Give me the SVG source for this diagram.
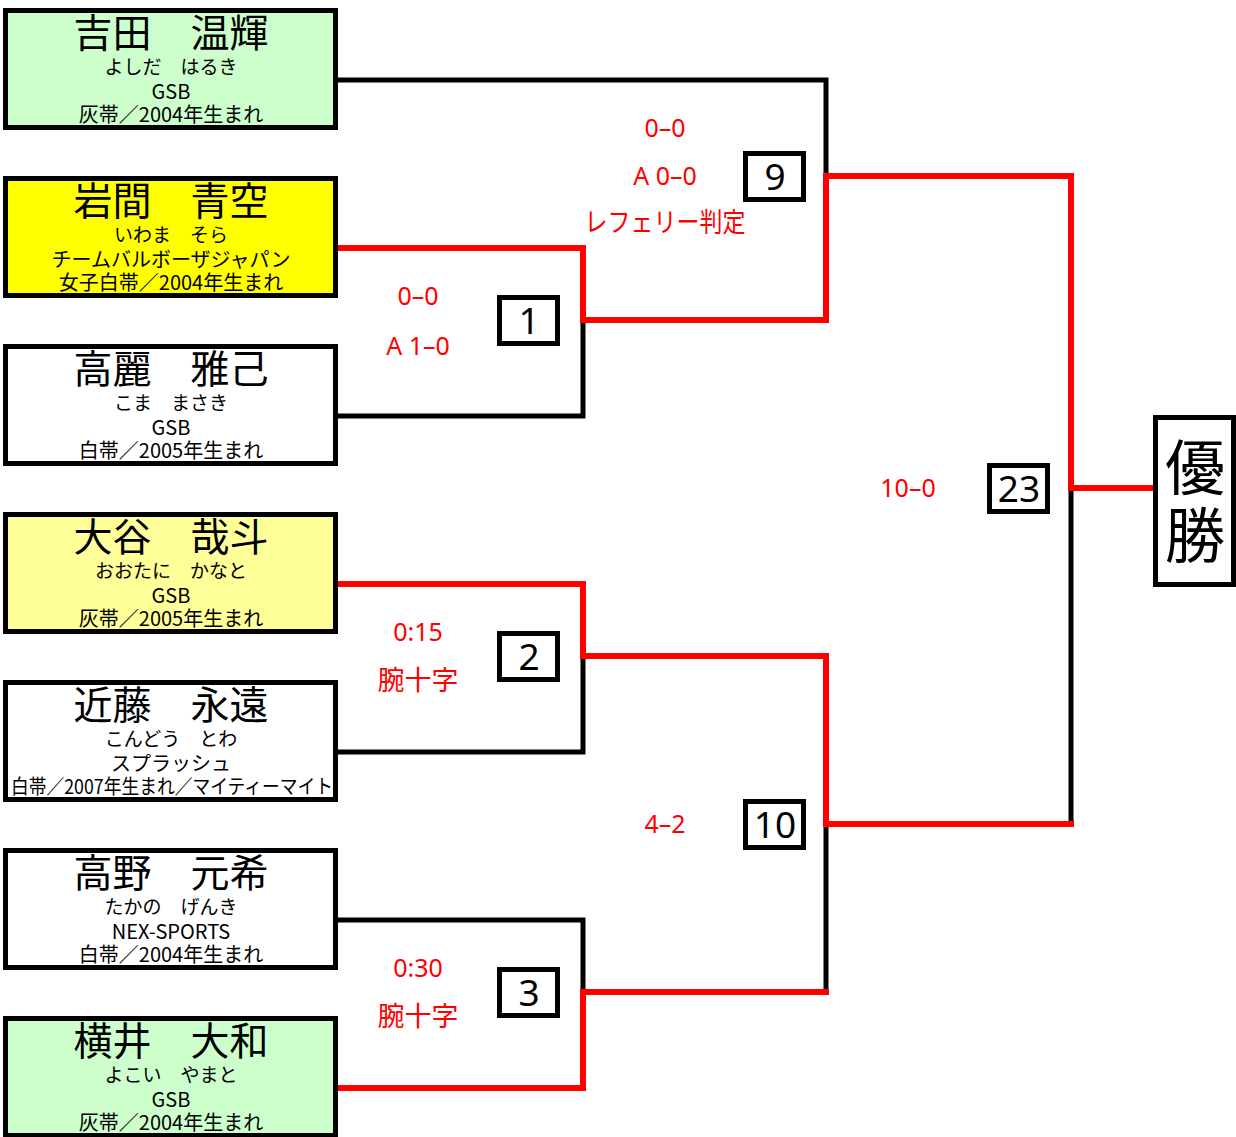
<svg xmlns="http://www.w3.org/2000/svg" width="1236" height="1137" viewBox="0 0 1236 1137">
<style>
.box{stroke:#000;stroke-width:5;}
.t{font-family:"Noto Sans CJK JP","Noto Sans",sans-serif;fill:#000;text-anchor:middle;}
.nm{font-size:39px;}
.rd{font-size:19px;}
.sm{font-size:20px;}
.blk{fill:none;stroke:#000;stroke-width:5;stroke-linejoin:miter;stroke-linecap:square;}
.red{fill:none;stroke:#ff0000;stroke-width:6;stroke-linejoin:miter;stroke-linecap:square;}
.sc{font-family:"Noto Sans","Noto Sans CJK JP",sans-serif;fill:#ff0000;font-size:25px;text-anchor:middle;}
.sj{font-family:"Noto Sans CJK JP","Noto Sans",sans-serif;fill:#ff0000;font-size:27px;text-anchor:middle;}
.mb{fill:#fff;stroke:#000;stroke-width:5;}
.mn{font-family:"Noto Sans","Noto Sans CJK JP",sans-serif;font-size:37px;fill:#000;text-anchor:middle;}
</style>
<rect width="1236" height="1137" fill="#fff"/>
<g id="connectors">
<path class="blk" d="M338,80 H826 V176"/>
<path class="blk" d="M338,416 H583 V320"/>
<path class="blk" d="M338,752 H583 V656"/>
<path class="blk" d="M338,920 H583 V992"/>
<path class="blk" d="M826,992 V824"/>
<path class="blk" d="M1071,824 V488"/>
<path class="red" d="M338,248 H583 V320 H826 V176 H1071 V488 H1155"/>
<path class="red" d="M338,584 H583 V656 H826 V824 H1071"/>
<path class="red" d="M338,1088 H583 V992 H826"/>
</g>
<g id="p1">
<rect class="box" x="5.5" y="10.5" width="330" height="117" fill="#ccffcc"/>
<text class="t nm" x="171" y="47">吉田　温輝</text>
<text class="t rd" x="171" y="74">よしだ　はるき</text>
<text class="t sm" x="171" y="99">GSB</text>
<text class="t sm" x="171" y="122">灰帯／2004年生まれ</text>
</g>
<g id="p2">
<rect class="box" x="5.5" y="178.5" width="330" height="117" fill="#ffff00"/>
<text class="t nm" x="171" y="215">岩間　青空</text>
<text class="t rd" x="171" y="242">いわま　そら</text>
<text class="t sm" x="171" y="267">チームバルボーザジャパン</text>
<text class="t sm" x="171" y="290">女子白帯／2004年生まれ</text>
</g>
<g id="p3">
<rect class="box" x="5.5" y="346.5" width="330" height="117" fill="#ffffff"/>
<text class="t nm" x="171" y="383">高麗　雅己</text>
<text class="t rd" x="171" y="410">こま　まさき</text>
<text class="t sm" x="171" y="435">GSB</text>
<text class="t sm" x="171" y="458">白帯／2005年生まれ</text>
</g>
<g id="p4">
<rect class="box" x="5.5" y="514.5" width="330" height="117" fill="#ffff99"/>
<text class="t nm" x="171" y="551">大谷　哉斗</text>
<text class="t rd" x="171" y="578">おおたに　かなと</text>
<text class="t sm" x="171" y="603">GSB</text>
<text class="t sm" x="171" y="626">灰帯／2005年生まれ</text>
</g>
<g id="p5">
<rect class="box" x="5.5" y="682.5" width="330" height="117" fill="#ffffff"/>
<text class="t nm" x="171" y="719">近藤　永遠</text>
<text class="t rd" x="171" y="746">こんどう　とわ</text>
<text class="t sm" x="171" y="771">スプラッシュ</text>
<text class="t sm" x="172" y="794" textLength="322" lengthAdjust="spacingAndGlyphs">白帯／2007年生まれ／マイティーマイト</text>
</g>
<g id="p6">
<rect class="box" x="5.5" y="850.5" width="330" height="117" fill="#ffffff"/>
<text class="t nm" x="171" y="887">高野　元希</text>
<text class="t rd" x="171" y="914">たかの　げんき</text>
<text class="t sm" x="171" y="939">NEX-SPORTS</text>
<text class="t sm" x="171" y="962">白帯／2004年生まれ</text>
</g>
<g id="p7">
<rect class="box" x="5.5" y="1018.5" width="330" height="117" fill="#ccffcc"/>
<text class="t nm" x="171" y="1055">横井　大和</text>
<text class="t rd" x="171" y="1082">よこい　やまと</text>
<text class="t sm" x="171" y="1107">GSB</text>
<text class="t sm" x="171" y="1130">灰帯／2004年生まれ</text>
</g>
<g id="m1">
<rect class="mb" x="499.5" y="297.5" width="58" height="46"/>
<text class="mn" x="529" y="334">1</text>
<text class="sc" x="418" y="305">0–0</text>
<text class="sc" x="418" y="355">A 1–0</text>
</g>
<g id="m2">
<rect class="mb" x="499.5" y="633.5" width="58" height="46"/>
<text class="mn" x="529" y="670">2</text>
<text class="sc" x="418" y="641">0:15</text>
<text class="sj" x="418" y="690">腕十字</text>
</g>
<g id="m3">
<rect class="mb" x="499.5" y="969.5" width="58" height="46"/>
<text class="mn" x="529" y="1006">3</text>
<text class="sc" x="418" y="977">0:30</text>
<text class="sj" x="418" y="1026">腕十字</text>
</g>
<g id="m9">
<rect class="mb" x="745.5" y="153.5" width="58" height="46"/>
<text class="mn" x="775" y="190">9</text>
<text class="sc" x="665" y="137">0–0</text>
<text class="sc" x="665" y="185">A 0–0</text>
<text class="sj" x="665" y="232" textLength="161" lengthAdjust="spacingAndGlyphs">レフェリー判定</text>
</g>
<g id="m10">
<rect class="mb" x="745.5" y="801.5" width="58" height="46"/>
<text class="mn" x="775" y="838">10</text>
<text class="sc" x="665" y="833">4–2</text>
</g>
<g id="m23">
<rect class="mb" x="989.5" y="465.5" width="58" height="46"/>
<text class="mn" x="1019" y="502">23</text>
<text class="sc" x="908" y="497">10–0</text>
</g>
<g id="champion">
<rect class="box" x="1155.5" y="417.5" width="78" height="167" fill="#fff"/>
<text class="t" x="1195" y="490" style="font-size:60px">優</text>
<text class="t" x="1195" y="558" style="font-size:60px">勝</text>
</g>
</svg>
